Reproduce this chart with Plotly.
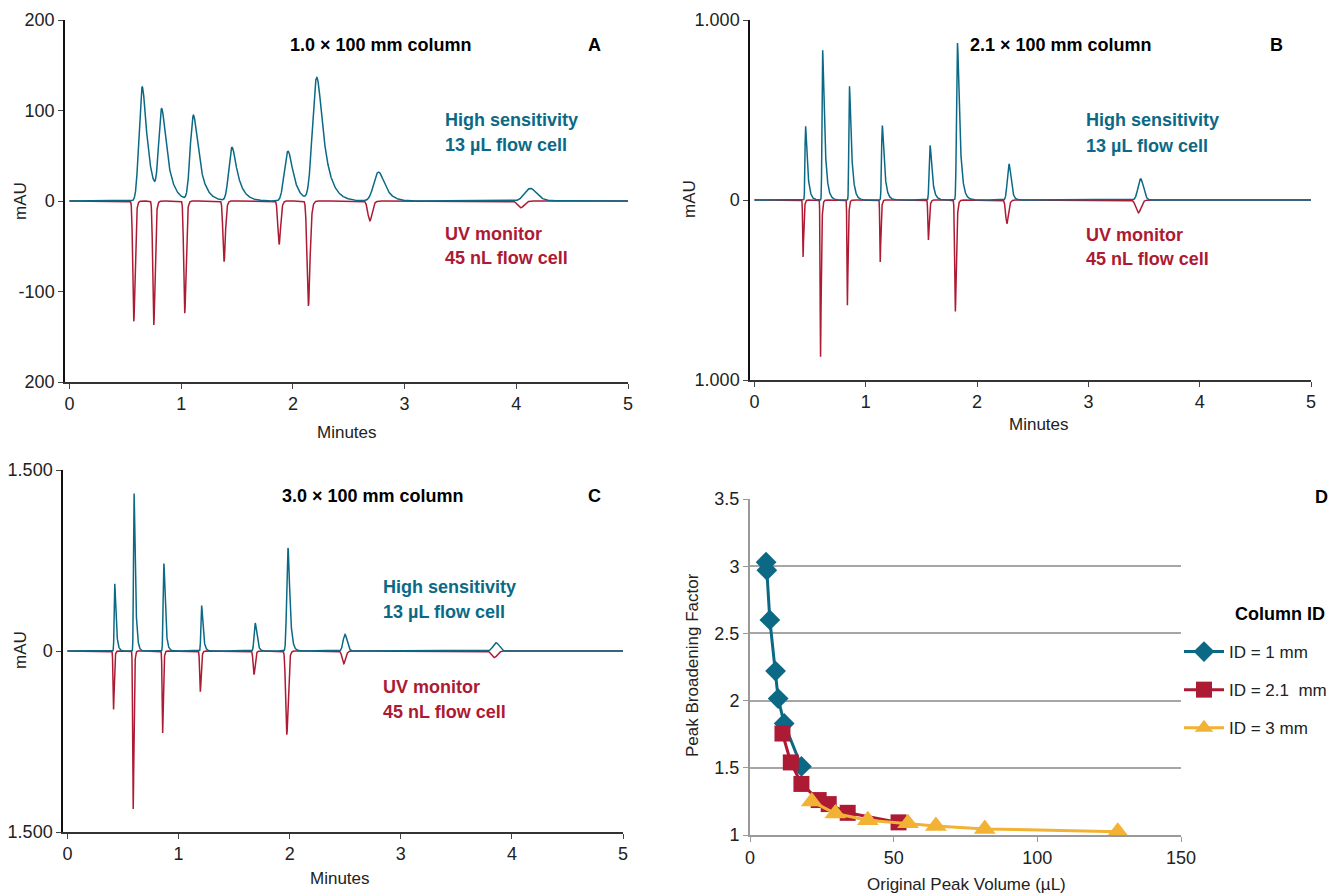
import numpy as np
import plotly.graph_objects as go
from plotly.subplots import make_subplots

TEAL = "#0b6985"
CRIMSON = "#ad1a33"
GOLD = "#f2b233"
FONT = "Liberation Sans, Arial, sans-serif"

# ---- panel A: 1.0 x 100 mm column (time in min, height in mAU, sigma/tail in min)
a_hs_time = [0.651, 0.826, 1.11, 1.455, 1.956, 2.214, 2.767, 4.125]
a_hs_height = [126, 97, 94, 59, 55, 136, 32, 14]
a_hs_sigma = [0.022, 0.02, 0.022, 0.022, 0.026, 0.03, 0.035, 0.045]
a_hs_tail = [0.05, 0.055, 0.055, 0.055, 0.05, 0.065, 0.055, 0.04]
a_uv_time = [0.576, 0.755, 1.032, 1.384, 1.877, 2.139, 2.689, 4.04]
a_uv_height = [-133, -137, -124, -67, -48, -116, -22, -7.5]
a_uv_sigma = [0.008, 0.008, 0.008, 0.009, 0.01, 0.011, 0.016, 0.025]
a_uv_tail = [0.008, 0.008, 0.008, 0.008, 0.009, 0.01, 0.012, 0.015]

# ---- panel B: 2.1 x 100 mm column
b_hs_time = [0.46, 0.613, 0.854, 1.149, 1.578, 1.824, 2.287, 3.47]
b_hs_height = [410, 832, 632, 414, 303, 872, 200, 118]
b_hs_sigma = [0.004, 0.004, 0.004, 0.005, 0.006, 0.006, 0.013, 0.022]
b_hs_tail = [0.018, 0.02, 0.02, 0.02, 0.02, 0.022, 0.015, 0.012]
b_uv_time = [0.437, 0.594, 0.835, 1.13, 1.563, 1.805, 2.268, 3.448]
b_uv_height = [-316, -871, -584, -344, -222, -619, -131, -72]
b_uv_sigma = [0.003, 0.003, 0.003, 0.003, 0.004, 0.005, 0.01, 0.02]
b_uv_tail = [0.006, 0.006, 0.006, 0.006, 0.007, 0.008, 0.01, 0.012]

# ---- panel C: 3.0 x 100 mm column
c_hs_time = [0.426, 0.6, 0.868, 1.208, 1.69, 1.985, 2.498, 3.857]
c_hs_height = [558, 1305, 724, 376, 232, 854, 138, 69]
c_hs_sigma = [0.004, 0.004, 0.005, 0.005, 0.008, 0.009, 0.015, 0.025]
c_hs_tail = [0.012, 0.012, 0.013, 0.013, 0.014, 0.016, 0.012, 0.012]
c_uv_time = [0.415, 0.592, 0.857, 1.196, 1.679, 1.974, 2.487, 3.842]
c_uv_height = [-484, -1310, -680, -337, -196, -694, -105, -55]
c_uv_sigma = [0.004, 0.004, 0.004, 0.005, 0.007, 0.009, 0.013, 0.022]
c_uv_tail = [0.005, 0.005, 0.005, 0.006, 0.007, 0.008, 0.01, 0.012]

# ---- panel D: peak broadening factor vs original peak volume (uL)
d_1mm_vol = [5.6, 5.85, 6.9, 8.9, 9.8, 11.9, 17.9]
d_1mm_pbf = [3.03, 2.97, 2.60, 2.22, 2.015, 1.83, 1.51]
d_21mm_vol = [11.3, 14.2, 17.9, 23.9, 27.4, 34.0, 51.7]
d_21mm_pbf = [1.755, 1.54, 1.38, 1.26, 1.23, 1.165, 1.094]
d_3mm_vol = [21.5, 29.7, 41.0, 55.0, 64.7, 81.7, 128.0]
d_3mm_pbf = [1.25, 1.16, 1.11, 1.087, 1.067, 1.045, 1.025]

t = np.arange(0, 5.0001, 0.0005)


def peak(mu, h, s, tau):
    # exponentially modified gaussian, scaled so the apex sits at (mu, h)
    dt = 0.0005
    u = np.arange(-8 * s, 8 * s + 10 * tau, dt)
    g = np.exp(-0.5 * (u / s) ** 2)
    k = np.exp(-np.arange(0, 10 * tau, dt) / tau)
    c = np.convolve(g, k)[:len(u)]
    c /= c.max()
    apex = u[np.argmax(c)]
    return h * np.interp(t - mu + apex, u, c, left=0, right=0)


def chromatogram(times, heights, sigmas, tails):
    y = np.zeros_like(t)
    for mu, h, s, tau in zip(times, heights, sigmas, tails):
        y += peak(mu, h, s, tau)
    return y


fig = make_subplots(rows=2, cols=2)

panels = [
    (1, 1, (a_uv_time, a_uv_height, a_uv_sigma, a_uv_tail), (a_hs_time, a_hs_height, a_hs_sigma, a_hs_tail)),
    (1, 2, (b_uv_time, b_uv_height, b_uv_sigma, b_uv_tail), (b_hs_time, b_hs_height, b_hs_sigma, b_hs_tail)),
    (2, 1, (c_uv_time, c_uv_height, c_uv_sigma, c_uv_tail), (c_hs_time, c_hs_height, c_hs_sigma, c_hs_tail)),
]
for r, c, uv, hs in panels:
    fig.add_trace(go.Scatter(x=t, y=chromatogram(*uv), mode="lines", line=dict(color=CRIMSON, width=1.5),
                             showlegend=False, hoverinfo="skip"), row=r, col=c)
    fig.add_trace(go.Scatter(x=t, y=chromatogram(*hs), mode="lines", line=dict(color=TEAL, width=1.5),
                             showlegend=False, hoverinfo="skip"), row=r, col=c)

series_d = [
    ("ID = 1 mm", d_1mm_vol, d_1mm_pbf, TEAL, "diamond", 16),
    ("ID = 2.1  mm", d_21mm_vol, d_21mm_pbf, CRIMSON, "square", 16),
    ("ID = 3 mm", d_3mm_vol, d_3mm_pbf, GOLD, "triangle-up", 19),
]
for name, xv, yv, col, sym, size in series_d:
    fig.add_trace(go.Scatter(x=xv, y=yv, name=name, mode="lines+markers",
                             line=dict(color=col, width=3),
                             marker=dict(symbol=sym, size=size, color=col),
                             legendgroup=name), row=2, col=2)

# the page body has an 8px margin, so the figure is drawn 8px smaller and
# every pixel position below is given in window coordinates
OFF = 8
W, H = 1339 - OFF, 896 - OFF


def px_x(a, b):
    return [(a - OFF) / W, (b - OFF) / W]


def px_y(top, bottom):
    return [1 - (bottom - OFF) / H, 1 - (top - OFF) / H]


def paper(x, y):
    return (x - OFF) / W, 1 - (y - OFF) / H


tick_font = dict(family=FONT, size=18, color="#222")
title_font = dict(family=FONT, size=17, color="#222")
chrom_x = dict(range=[-0.04, 5], tickvals=[0, 1, 2, 3, 4, 5], ticks="outside", ticklen=5,
               showline=True, linecolor="#333", linewidth=1.5, showgrid=False, zeroline=False,
               automargin=False, tickfont=tick_font)
chrom_y = dict(ticks="outside", ticklen=5, showline=True, linecolor="#111", linewidth=1.5,
               showgrid=False, zeroline=False, automargin=False, tickfont=tick_font)

fig.update_layout(
    xaxis=dict(chrom_x, domain=px_x(65, 628)),
    yaxis=dict(chrom_y, domain=px_y(20, 382), range=[-200, 200], tickvals=[-200, -100, 0, 100, 200],
               ticktext=["200", "-100", "0", "100", "200"]),
    xaxis2=dict(chrom_x, domain=px_x(750, 1311)),
    yaxis2=dict(chrom_y, domain=px_y(20, 380), range=[-1000, 1000], tickvals=[-1000, 0, 1000],
                ticktext=["1.000", "0", "1.000"]),
    xaxis3=dict(chrom_x, domain=px_x(63, 623)),
    yaxis3=dict(chrom_y, domain=px_y(470, 832), range=[-1500, 1500], tickvals=[-1500, 0, 1500],
                ticktext=["1.500", "0", "1.500"]),
    xaxis4=dict(domain=px_x(750, 1181), range=[0, 150], tickvals=[0, 50, 100, 150], ticks="outside",
                ticklen=5, tickcolor="#999", showline=True, linecolor="#999", linewidth=2, showgrid=False,
                zeroline=False, automargin=False, tickfont=tick_font),
    yaxis4=dict(domain=px_y(499, 835), range=[1, 3.5], dtick=0.5, ticks="outside", ticklen=5,
                tickcolor="#999", showline=True, linecolor="#999", linewidth=2, showgrid=True,
                gridcolor="#a6a6a6", gridwidth=2, zeroline=False, automargin=False,
                tickfont=tick_font),
    width=W, height=H,
    margin=dict(l=0, r=0, t=0, b=0, autoexpand=False),
    plot_bgcolor="white", paper_bgcolor="white",
    font=dict(family=FONT, size=17, color="#222"),
    legend=dict(x=paper(1179, 0)[0], y=paper(0, 634)[1], xanchor="left", yanchor="top",
                font=dict(family=FONT, size=17, color="#222"),
                tracegroupgap=13, bgcolor="rgba(0,0,0,0)", itemwidth=40),
)

# axis titles, placed in window pixels
axis_titles = [
    (20, 201, "mAU", -90), (347, 432, "Minutes", 0),
    (690, 199, "mAU", -90), (1039, 424, "Minutes", 0),
    (20, 650, "mAU", -90), (340, 878, "Minutes", 0),
    (692, 665, "Peak Broadening Factor", -90), (966, 884, "Original Peak Volume (µL)", 0),
]
for x, y, text, ang in axis_titles:
    px, py = paper(x, y)
    fig.add_annotation(xref="paper", yref="paper", x=px, y=py, text=text, showarrow=False,
                       textangle=ang, xanchor="center", yanchor="middle", font=title_font)

bold = dict(family=FONT, size=18, color="black")
labels = [
    # (xref, yref, x, y, text, color, anchor)
    ("x", "y", 2.79, 172, "<b>1.0 × 100 mm column</b>", "black", "center"),
    ("x", "y", 4.7, 172, "<b>A</b>", "black", "center"),
    ("x", "y", 3.345, 90, "<b>High sensitivity</b>", TEAL, "left"),
    ("x", "y", 3.345, 62, "<b>13 µL flow cell</b>", TEAL, "left"),
    ("x", "y", 3.345, -36, "<b>UV monitor</b>", CRIMSON, "left"),
    ("x", "y", 3.345, -63, "<b>45 nL flow cell</b>", CRIMSON, "left"),
    ("x2", "y2", 2.756, 860, "<b>2.1 × 100 mm column</b>", "black", "center"),
    ("x2", "y2", 4.686, 860, "<b>B</b>", "black", "center"),
    ("x2", "y2", 2.962, 447, "<b>High sensitivity</b>", TEAL, "left"),
    ("x2", "y2", 2.962, 302, "<b>13 µL flow cell</b>", TEAL, "left"),
    ("x2", "y2", 2.962, -196, "<b>UV monitor</b>", CRIMSON, "left"),
    ("x2", "y2", 2.962, -330, "<b>45 nL flow cell</b>", CRIMSON, "left"),
    ("x3", "y3", 2.752, 1284, "<b>3.0 × 100 mm column</b>", "black", "center"),
    ("x3", "y3", 4.74, 1284, "<b>C</b>", "black", "center"),
    ("x3", "y3", 2.824, 530, "<b>High sensitivity</b>", TEAL, "left"),
    ("x3", "y3", 2.824, 323, "<b>13 µL flow cell</b>", TEAL, "left"),
    ("x3", "y3", 2.824, -298, "<b>UV monitor</b>", CRIMSON, "left"),
    ("x3", "y3", 2.824, -505, "<b>45 nL flow cell</b>", CRIMSON, "left"),
    ("paper", "paper", *paper(1321, 497), "<b>D</b>", "black", "center"),
    ("paper", "paper", *paper(1280, 614), "<b>Column ID</b>", "black", "center"),
]
for xr, yr, x, y, text, col, anchor in labels:
    fig.add_annotation(xref=xr, yref=yr, x=x, y=y, text=text, showarrow=False,
                       xanchor=anchor, yanchor="middle", font=dict(bold, color=col))

fig.write_html("out.html")
